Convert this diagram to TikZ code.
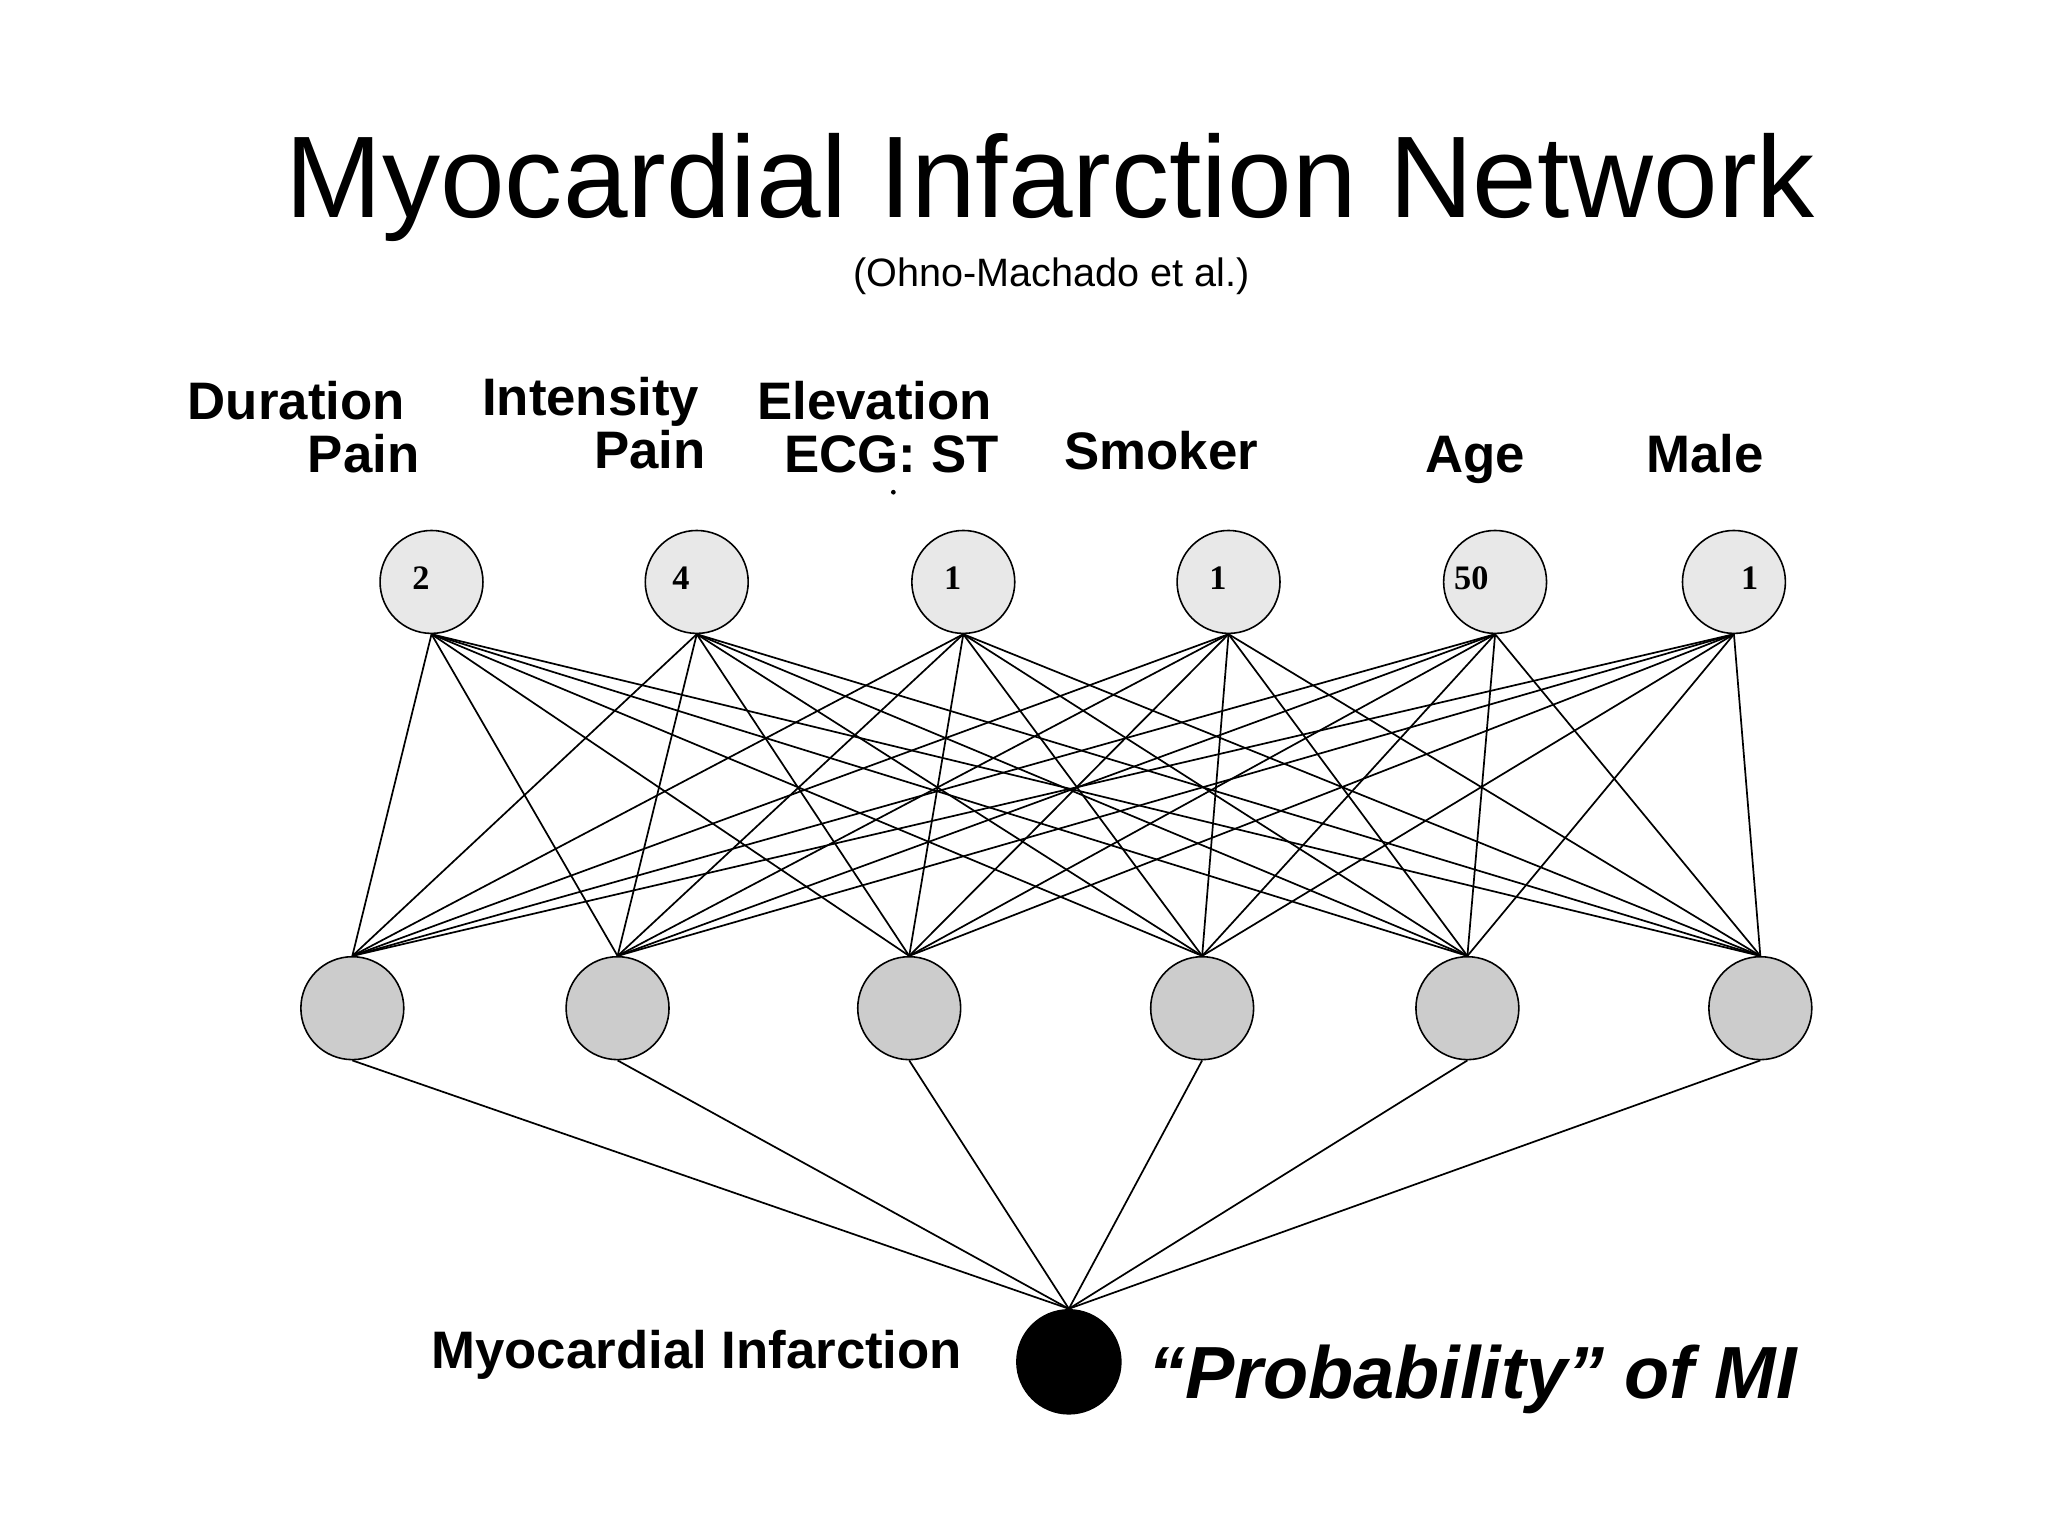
\documentclass[tikz,border=0pt]{standalone}
\usepackage{fontspec}
\setmainfont{Liberation Sans}
\newfontfamily\numfont{Liberation Serif}
\begin{document}
\begin{tikzpicture}[x=1pt,y=-1pt,
  inp/.style={circle,draw,line width=1.2pt,minimum size=78pt,inner sep=0pt,fill=gray!18},
  hid/.style={circle,draw,line width=1.2pt,minimum size=78pt,inner sep=0pt,fill=gray!40},
  outn/.style={circle,fill=black,minimum size=80pt,inner sep=0pt},
  lab/.style={font=\fontsize{40}{44}\selectfont\bfseries,inner sep=0pt},
  num/.style={font=\numfont\fontsize{26}{28}\selectfont\bfseries,inner sep=0pt},
  edge/.style={line width=1.3pt}]
\useasboundingbox (0,0) rectangle (1552,1164);
\node[anchor=base,inner sep=0pt,font=\fontsize{88}{90}\selectfont] at (796,165) {Myocardial Infarction Network};
\node[anchor=base,inner sep=0pt,font=\fontsize{30}{32}\selectfont] at (797,217) {(Ohno-Machado et al.)};
\node[lab,anchor=base east] at (307,318) {Duration};
\node[lab,anchor=base east] at (318,358) {Pain};
\node[lab,anchor=base east] at (530,315) {Intensity};
\node[lab,anchor=base east] at (535,355) {Pain};
\node[lab,anchor=base east] at (752,318) {Elevation};
\node[lab,anchor=base east] at (757,358) {ECG: ST};
\fill (677,373) circle (1.8);
\node[lab,anchor=base] at (880,356) {Smoker};
\node[lab,anchor=base] at (1118,358) {Age};
\node[lab,anchor=base] at (1292,358) {Male};
\foreach \i/\x/\v/\dx in {1/327/2/-8,2/528/4/-12,3/730/1/-8,4/931/1/-8,5/1133/50/-18,6/1314/1/12} {
  \node[inp] (t\i) at (\x,441) {};
  \node[num] at ([xshift=\dx pt,yshift=3pt]t\i.center) {\v};
}
\foreach \i/\x in {1/267,2/468,3/689,4/911,5/1112,6/1334} {
  \node[hid] (h\i) at (\x,764) {};
}
\node[outn] (o) at (810,1032) {};
\foreach \i in {1,...,6} {
  \foreach \j in {1,...,6} { \draw[edge] (t\i.south) -- (h\j.north); }
  \draw[edge] (h\i.south) -- (o.north);
}
\node[lab,anchor=base] at (528,1037) {Myocardial Infarction};
\node[anchor=base,inner sep=0pt,font=\fontsize{56}{60}\selectfont\bfseries\itshape] at (1116,1060) {``Probability'' of MI};
\end{tikzpicture}
\end{document}
